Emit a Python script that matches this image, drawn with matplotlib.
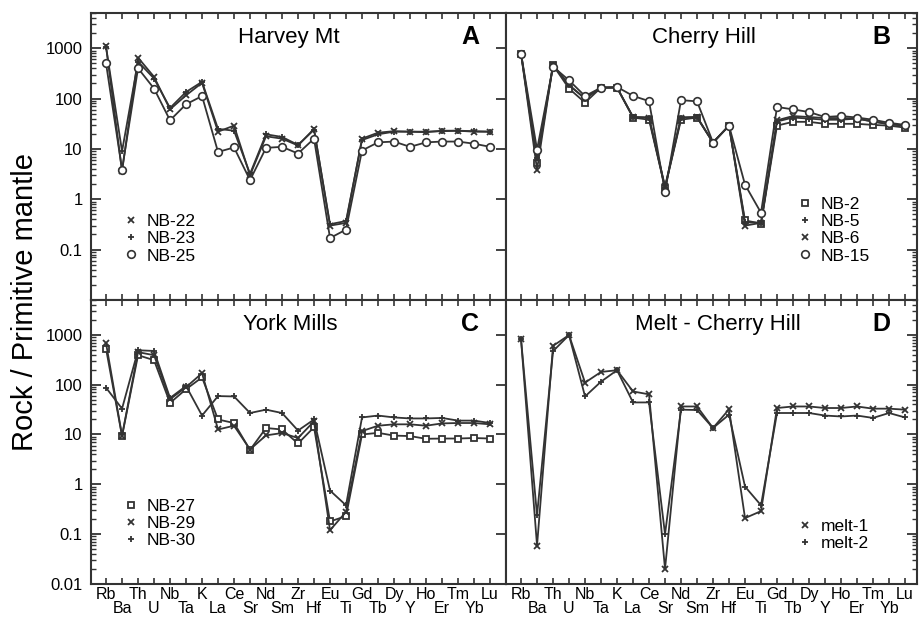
import numpy as np
import matplotlib
matplotlib.use('Agg')
import matplotlib.pyplot as plt
from matplotlib.lines import Line2D
from matplotlib.ticker import FixedLocator, LogLocator, NullFormatter

plt.rcParams['font.family'] = ['Liberation Sans', 'DejaVu Sans']

elements = ['Rb', 'Ba', 'Th', 'U', 'Nb', 'Ta', 'K', 'La', 'Ce', 'Sr', 'Nd', 'Sm', 'Zr',
            'Hf', 'Eu', 'Ti', 'Gd', 'Tb', 'Dy', 'Y', 'Ho', 'Er', 'Tm', 'Yb', 'Lu']

# A - Harvey Mt
nb22 = [1100, 3.6, 650, 270, 61, 116, 205, 22, 29, 3.0, 17.8, 16, 11.7, 25, 0.30, 0.34,
        16, 21, 22.5, 22, 21.5, 23, 23, 22, 22]
nb23 = [1050, 9, 540, 250, 65, 135, 215, 25, 23, 3.2, 19.5, 17.3, 12, 24, 0.32, 0.37,
        15, 19.5, 22, 22, 22, 22.5, 23, 22.5, 22]
nb25 = [500, 3.9, 400, 158, 37, 77, 112, 8.7, 10.7, 2.4, 10.5, 11, 8.1, 16, 0.17, 0.25,
        9.3, 13.5, 14, 11, 13.5, 14, 14, 12.7, 11]

# B - Cherry Hill
nb2 = [780, 5.3, 460, 158, 83, 165, 165, 42, 38, 1.7, 38, 42, 13.4, 29, 0.38, 0.33,
       29, 34.5, 34.5, 31.5, 31.5, 31.5, 30, 29, 26.5]
nb5 = [780, 6.5, 460, 185, 100, 165, 165, 43, 42, 1.7, 42, 43, 13.4, 29, 0.35, 0.34,
       35, 42, 40, 38, 38, 40, 35, 31, 29]
nb6 = [780, 3.9, 470, 185, 100, 165, 165, 43, 42, 1.8, 42, 43, 13.4, 29, 0.30, 0.34,
       37, 45, 43, 41, 41, 40, 35, 31, 29]
nb15 = [780, 9.7, 430, 230, 112, 165, 170, 113, 89, 1.4, 93, 88, 13.4, 29, 1.95, 0.54,
        68, 61, 54, 43, 45, 42, 38, 33, 30]

# C - York Mills
nb27 = [525, 9.3, 390, 310, 43, 81, 140, 20, 17, 4.9, 13.5, 12.6, 6.6, 14, 0.18, 0.23,
        10, 10.8, 9.5, 9.3, 8.2, 8.3, 8.3, 8.5, 8.3]
nb29 = [680, 9.5, 450, 390, 51, 89, 170, 12.6, 15, 5, 9.6, 10.7, 8.5, 18.4, 0.12, 0.28,
        11.7, 15, 16, 16, 15, 16.7, 17, 17, 16]
nb30 = [87, 33, 490, 475, 54, 94, 24, 59, 58, 27, 31.5, 27, 12, 20, 0.75, 0.38,
        22, 24, 22, 21, 21, 21.5, 19, 19, 17]

# D - Melt - Cherry Hill
melt1 = [810, 0.059, 600, 990, 110, 180, 195, 73, 64, 0.02, 36.5, 36.5, 13.5, 32, 0.21, 0.29,
         34, 36.5, 36.5, 34, 34, 36.5, 33, 33, 31.5]
melt2 = [810, 0.24, 470, 990, 58, 115, 195, 44, 44, 0.1, 31.5, 31, 13.5, 25, 0.9, 0.38,
         27, 27, 27, 24, 23, 24, 21.5, 27, 22]

dark = '#333333'
x = np.arange(len(elements))

styles = {
    'x': dict(marker='x', ms=4.5, mew=1.3, mfc=dark),
    '+': dict(marker='+', ms=5, mew=1.3, mfc=dark),
    'o': dict(marker='o', ms=5.5, mew=1.2, mfc='white'),
    's': dict(marker='s', ms=5, mew=1.3, mfc='white'),
}

fig = plt.figure(figsize=(9.19, 6.22), dpi=100)

W = 919.0
H = 622.0
axA = fig.add_axes([91 / W, 1 - 300 / H, 415 / W, 287 / H])
axB = fig.add_axes([506 / W, 1 - 300 / H, 411 / W, 287 / H])
axC = fig.add_axes([91 / W, 1 - 584 / H, 415 / W, 284 / H])
axD = fig.add_axes([506 / W, 1 - 584 / H, 411 / W, 284 / H])

panels = [
    (axA, 'Harvey Mt', 'A', [(nb22, 'NB-22', 'x'), (nb23, 'NB-23', '+'), (nb25, 'NB-25', 'o')],
     (0.08, 0.30), 0.477),
    (axB, 'Cherry Hill', 'B', [(nb2, 'NB-2', 's'), (nb5, 'NB-5', '+'), (nb6, 'NB-6', 'x'),
                               (nb15, 'NB-15', 'o')], (0.71, 0.36), 0.482),
    (axC, 'York Mills', 'C', [(nb27, 'NB-27', 's'), (nb29, 'NB-29', 'x'), (nb30, 'NB-30', '+')],
     (0.08, 0.30), 0.48),
    (axD, 'Melt - Cherry Hill', 'D', [(melt1, 'melt-1', 'x'), (melt2, 'melt-2', '+')],
     (0.71, 0.23), 0.516),
]

for i, (ax, title, letter, series, legpos, tx) in enumerate(panels):
    handles = []
    for vals, lab, m in series:
        ax.plot(x, vals, color=dark, lw=1.3, mec=dark, label=lab, **styles[m])
        handles.append(Line2D([], [], ls='none', color=dark, mec=dark, **styles[m]))
    ax.set_yscale('log')
    ax.set_ylim(0.01, 5000)
    if i % 2 == 0:
        ax.set_xlim(-0.94, 25.0)
    else:
        ax.set_xlim(-0.94, 24.75)

    ax.text(tx, 0.915, title, transform=ax.transAxes, ha='center', va='center', fontsize=16)
    ax.text(0.935, 0.915, letter, transform=ax.transAxes, ha='right', va='center',
            fontsize=18, fontweight='bold')
    ax.legend(handles, [s[1] for s in series], loc='upper left', bbox_to_anchor=legpos,
              frameon=False, fontsize=12.5, handlelength=0.8, handletextpad=0.5,
              labelspacing=0.12, borderpad=0, borderaxespad=0)

    for sp in ax.spines.values():
        sp.set_linewidth(1.5)
        sp.set_color(dark)

    # y axis
    ax.yaxis.set_major_locator(FixedLocator([0.01, 0.1, 1, 10, 100, 1000]))
    ax.yaxis.set_minor_locator(LogLocator(base=10, subs=np.arange(2, 10), numticks=20))
    ax.yaxis.set_minor_formatter(NullFormatter())
    if i % 2 == 0:
        ax.yaxis.set_ticks_position('both')
        ax.set_yticks([0.01, 0.1, 1, 10, 100, 1000])
        if i == 0:
            ax.set_yticklabels(['', '0.1', '1', '10', '100', '1000'])
        else:
            ax.set_yticklabels(['0.01', '0.1', '1', '10', '100', '1000'])
        ax.tick_params(axis='y', which='major', direction='in', length=7, width=1.3,
                       colors=dark, labelcolor='black', labelsize=12, pad=6,
                       left=True, right=True)
        ax.tick_params(axis='y', which='minor', direction='in', length=3.5, width=1.0,
                       colors=dark, left=True, right=False)
    else:
        ax.set_yticks([0.01, 0.1, 1, 10, 100, 1000])
        ax.set_yticklabels([])
        ax.tick_params(axis='y', which='major', direction='in', length=7, width=1.3,
                       colors=dark, left=False, right=True, labelleft=False)
        ax.tick_params(axis='y', which='minor', direction='in', length=3.5, width=1.0,
                       colors=dark, left=False, right=True)

    # x axis: two rows of element labels
    ax.set_xticks(x[0::2])
    ax.set_xticks(x[1::2], minor=True)
    if i >= 2:
        ax.set_xticklabels(elements[0::2])
        ax.set_xticklabels(elements[1::2], minor=True)
    else:
        ax.set_xticklabels([])
        ax.set_xticklabels([], minor=True)
    ax.tick_params(axis='x', which='both', direction='in', length=4, width=1.2,
                   colors=dark, labelcolor='black', top=True, bottom=True, labelsize=11.5)
    ax.tick_params(axis='x', which='major', pad=2)
    ax.tick_params(axis='x', which='minor', pad=12.5)
    if i >= 2:
        for lab in ax.get_xticklabels(which='both'):
            lab.set_family(['Liberation Sans Narrow', 'Liberation Sans'])

fig.text(0.027, 0.515, 'Rock / Primitive mantle', rotation=90, ha='center', va='center',
         fontsize=21)

fig.savefig('out.png', dpi=100)
